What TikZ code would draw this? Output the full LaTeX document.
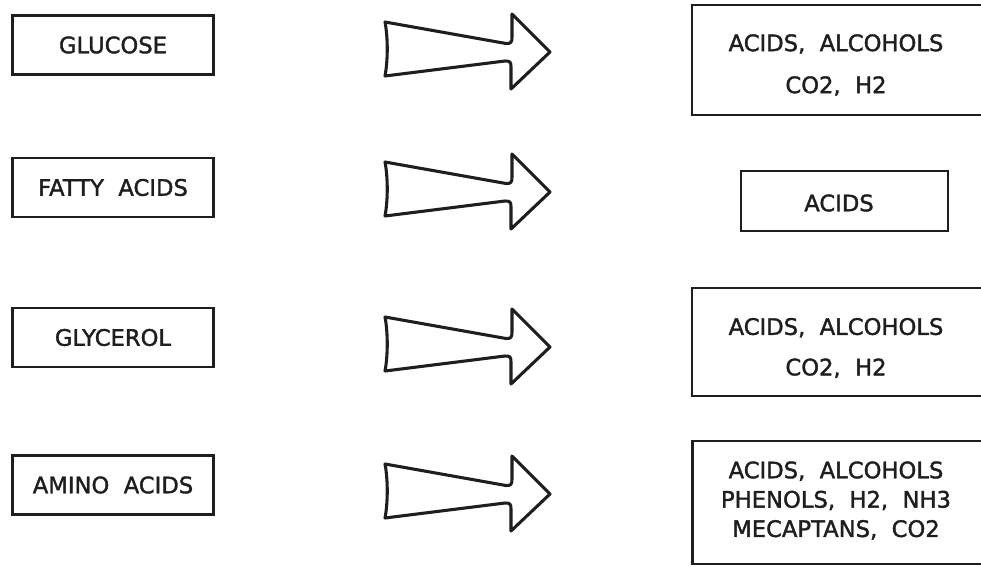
\documentclass[tikz,border=0pt]{standalone}
\usepackage{fontspec}
\setmainfont{DejaVu Sans}
\newfontfamily\lettering[FakeBold=1.6]{DejaVu Sans}
\definecolor{ink}{HTML}{1E1E1E}
\begin{document}
\begin{tikzpicture}[x=0.75pt,y=-0.75pt,
  lbl/.style={text=ink, font=\lettering\fontsize{17}{20}\selectfont, inner sep=0pt, align=center},
  srcbox/.style={draw=ink, line width=1.8pt, minimum width=150.75pt, minimum height=44pt, inner sep=0pt, text=ink, font=\lettering\fontsize{17}{20}\selectfont},
  prodbox/.style={draw=ink, line width=1.8pt, inner sep=0pt},
  fatarrow/.pic={
    \draw[ink, line width=2.3pt, line join=round]
      (-165,-30) -- (-44,-8.5)
      .. controls (-39,-8) and (-38,-10) .. (-38,-15)
      -- (-38,-38) -- (0,0) -- (-39,37) -- (-39,15)
      .. controls (-39,10) and (-40,9) .. (-45,9)
      -- (-165,24)
      .. controls (-162,8) and (-162,-14) .. cycle;
  }]
\useasboundingbox (0,0) rectangle (981,567);

% substrates
\node[srcbox] (glucose)  at (113,45)    {GLUCOSE};
\node[srcbox] (fatty)    at (113,187.5) {FATTY\ \ ACIDS};
\node[srcbox] (glycerol) at (113,337.5) {GLYCEROL};
\node[srcbox] (amino)    at (113,485)   {AMINO\ \ ACIDS};

% conversion arrows
\pic at (550,52)  {fatarrow};
\pic at (550,192) {fatarrow};
\pic at (550,347) {fatarrow};
\pic at (550,494) {fatarrow};

% products
\node[prodbox, minimum width=220.5pt, minimum height=82.5pt] (p1) at (839,60) {};
\node[lbl, font=\lettering\fontsize{17}{31.5}\selectfont] (p1t) at (836,65) {ACIDS,\ \ ALCOHOLS\\CO2,\ \ H2};

\node[prodbox, minimum width=155.25pt, minimum height=45pt] (p2) at (844.5,201) {};
\node[lbl] (p2t) at (839,203) {ACIDS};

\node[prodbox, minimum width=220.5pt, minimum height=81pt] (p3) at (839,342) {};
\node[lbl, font=\lettering\fontsize{17}{30.4}\selectfont] (p3t) at (836,348) {ACIDS,\ \ ALCOHOLS\\CO2,\ \ H2};

\node[prodbox, minimum width=220.5pt, minimum height=92.25pt] (p4) at (839.5,502.5) {};
\node[lbl, font=\lettering\fontsize{17}{22}\selectfont] (p4t) at (836,500.5) {ACIDS,\ \ ALCOHOLS\\PHENOLS,\ \ H2,\ \ NH3\\MECAPTANS,\ \ CO2};
\end{tikzpicture}
\end{document}
